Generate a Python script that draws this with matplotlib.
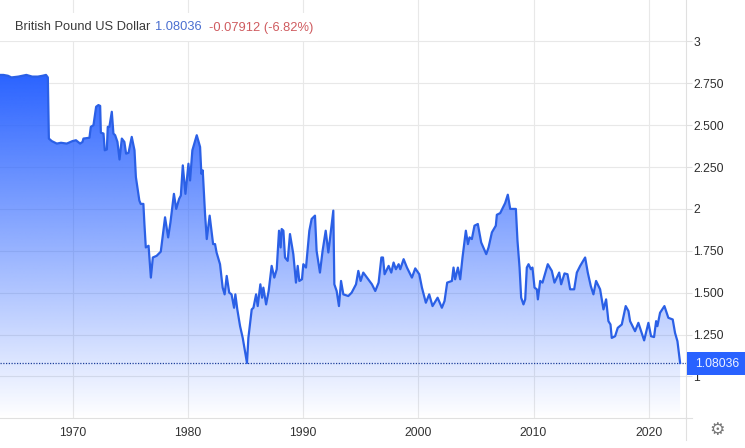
import numpy as np
import matplotlib
matplotlib.use("Agg")
import matplotlib.pyplot as plt
from matplotlib.lines import Line2D
from matplotlib.patches import Polygon, Rectangle
from matplotlib.transforms import Affine2D

years = [1963.7,1964,1964.4,1964.7,1965.3,1966,1966.5,1967,1967.4,1967.7,1967.86,
 1967.95,1968.2,1968.64,1969,1969.5,1970,1970.3,1970.66,1970.87,1970.95,1971.47,1971.59,1971.82,1972.05,1972.25,1972.4,1972.46,1972.69,1972.8,1972.98,1973.06,1973.2,1973.41,1973.55,1973.7,1973.9,1974.08,1974.28,1974.5,1974.65,1974.86,1975.14,1975.38,1975.5,1975.8,1975.92,1976.15,
 1976.24,1976.36,1976.6,1976.8,1976.97,1977.3,1977.66,1977.83,1978.03,1978.3,1978.5,1978.8,1979,1979.25,1979.4,1979.57,1979.8,1980.06,1980.2,1980.4,1980.78,1981.07,1981.18,1981.3,1981.5,1981.65,1981.9,1982.2,1982.37,1982.5,1982.8,1983.03,1983.2,1983.38,1983.6,1983.8,1984.02,1984.13,1984.3,1984.54,1984.77,1985.14,1985.26,1985.4,1985.55,1985.7,1985.93,1986.07,1986.3,1986.45,1986.56,1986.8,1987.02,1987.28,1987.51,1987.72,1987.92,1988.06,1988.15,1988.3,1988.44,1988.67,1988.87,1989.16,1989.39,1989.54,1989.68,1989.91,1990.03,1990.26,1990.55,1990.75,1991.04,1991.18,1991.47,1991.7,1991.97,1992.2,1992.63,1992.72,1992.92,1993.12,1993.3,1993.5,1993.93,1994.22,1994.6,1994.8,1995,1995.23,1995.66,1995.98,
 1996.27,1996.56,1996.8,1996.94,1997.08,1997.43,1997.66,1997.86,1998.06,1998.3,1998.44,1998.73,1999.02,1999.45,1999.74,2000.09,2000.32,2000.66,2000.95,2001.24,2001.68,2002.05,2002.28,2002.51,2002.92,2003.06,2003.2,2003.44,2003.64,2003.84,2004.13,2004.31,2004.45,2004.65,2004.88,2005.17,2005.46,2005.9,2006.1,2006.39,2006.73,2006.82,2007.11,2007.54,2007.77,2007.98,2008.47,2008.61,2008.79,2008.93,2009.13,2009.28,2009.42,2009.57,2009.77,2009.91,2010.09,2010.29,2010.38,2010.58,2010.78,2010.95,2011.24,2011.59,2011.82,2012.23,2012.4,2012.69,2012.95,2013.18,2013.53,2013.76,2014.05,2014.48,2014.71,2014.97,2015.2,2015.43,2015.78,2016.07,2016.3,2016.5,2016.68,2016.79,2017.08,2017.31,2017.66,2018.0,2018.24,2018.38,2018.81,2019.1,2019.34,2019.6,2019.97,2020.2,2020.46,2020.64,2020.75,2020.98,2021.36,2021.7,2022.08,2022.28,2022.49,2022.72]
rates = [2.80,2.80,2.795,2.785,2.79,2.80,2.79,2.79,2.795,2.80,2.785,
 2.42,2.405,2.39,2.395,2.39,2.405,2.41,2.39,2.40,2.42,2.425,2.49,2.50,2.61,2.62,2.615,2.455,2.45,2.35,2.355,2.49,2.49,2.58,2.45,2.44,2.40,2.295,2.42,2.40,2.33,2.335,2.43,2.35,2.19,2.05,2.03,2.03,
 1.91,1.77,1.78,1.59,1.71,1.72,1.745,1.84,1.95,1.83,1.92,2.09,2.0,2.06,2.08,2.26,2.09,2.27,2.17,2.35,2.44,2.37,2.21,2.23,1.97,1.82,1.96,1.79,1.79,1.74,1.67,1.53,1.49,1.60,1.50,1.49,1.41,1.49,1.40,1.30,1.23,1.08,1.23,1.31,1.40,1.41,1.49,1.42,1.55,1.47,1.53,1.43,1.51,1.66,1.59,1.64,1.87,1.77,1.88,1.87,1.71,1.69,1.85,1.73,1.56,1.66,1.57,1.58,1.67,1.65,1.87,1.94,1.96,1.75,1.62,1.75,1.87,1.74,1.99,1.55,1.51,1.42,1.57,1.49,1.48,1.50,1.55,1.63,1.57,1.62,1.58,1.55,
 1.51,1.56,1.71,1.71,1.61,1.66,1.62,1.68,1.64,1.67,1.64,1.70,1.65,1.59,1.645,1.61,1.53,1.44,1.49,1.42,1.47,1.41,1.45,1.56,1.57,1.65,1.58,1.65,1.58,1.71,1.87,1.79,1.83,1.82,1.90,1.91,1.80,1.73,1.77,1.86,1.90,1.965,1.975,2.035,2.085,2.0,2.0,1.81,1.65,1.47,1.43,1.46,1.65,1.67,1.64,1.65,1.53,1.52,1.46,1.57,1.56,1.60,1.67,1.63,1.56,1.62,1.55,1.615,1.61,1.52,1.52,1.62,1.66,1.71,1.62,1.54,1.49,1.57,1.52,1.40,1.46,1.33,1.31,1.23,1.24,1.29,1.31,1.42,1.39,1.33,1.27,1.32,1.27,1.215,1.32,1.24,1.235,1.33,1.30,1.38,1.42,1.35,1.34,1.26,1.21,1.08036]

x_ticks = [1970, 1980, 1990, 2000, 2010, 2020]
y_ticks = [1, 1.25, 1.5, 1.75, 2, 2.25, 2.5, 2.75, 3]
y_labels = ["1", "1.250", "1.500", "1.750", "2", "2.250", "2.500", "2.750", "3"]
last_price = 1.08036
title_name = "British Pound US Dollar"
title_price = "1.08036"
title_change = "-0.07912 (-6.82%)"

W, H = 745, 448
AXW, AXB = 686.3, 418.3
BLUE = (0x29/255, 0x62/255, 1.0)
GRID = "#e8e8e8"
EDGE = "#e0e0e0"
plt.rcParams["font.family"] = ["Liberation Sans", "DejaVu Sans"]

fig = plt.figure(figsize=(W/100, H/100), dpi=100, facecolor="white")
ax = fig.add_axes([0, (H-AXB)/H, AXW/W, AXB/H])
xl = 1970 - 72.5/11.525
xlim = (xl, xl + AXW/11.525)
ylim = (0.75, 0.75 + AXB/167.5)
for s in ("top", "left"):
    ax.spines[s].set_visible(False)
for s in ("right", "bottom"):
    ax.spines[s].set_color(EDGE)
    ax.spines[s].set_linewidth(0.8)
ax.yaxis.tick_right()
ax.set_xticks(x_ticks)
ax.set_yticks(y_ticks)
ax.set_yticklabels(y_labels)
ax.grid(True, color=GRID, lw=0.8, zorder=0)
ax.set_axisbelow(True)
ax.tick_params(axis="y", length=4, width=0.8, color=EDGE, labelsize=8.7, pad=1,
               labelcolor="#2e2e2e")
ax.tick_params(axis="x", length=0, labelsize=8.7, pad=6.5, labelcolor="#333333")

# white band behind the heading
band = Rectangle((0, 13), 318, 27.5, fc="white", ec="none", zorder=1)
band.set_transform(Affine2D().scale(1, -1).translate(0, H))
ax.add_patch(band)

# gradient area
grad = np.zeros((256, 2, 4))
grad[..., 0], grad[..., 1], grad[..., 2] = BLUE
grad[..., 3] = np.linspace(1, 0, 256)[:, None]
im = ax.imshow(grad, extent=[xl, years[-1], 0.75, 2.81], origin="upper", aspect="auto",
               interpolation="bilinear", zorder=1.5)
poly = Polygon(list(zip(years, rates)) + [(years[-1], 0.75), (years[0], 0.75)],
               closed=True, transform=ax.transData, fc="none", ec="none")
ax.add_patch(poly)
im.set_clip_path(poly)
ax.set_xlim(*xlim)
ax.set_ylim(*ylim)

ax.plot(years, rates, color="#2b60e6", lw=1.6, solid_joinstyle="round", zorder=3)
ax.axhline(last_price, color="#1d3f9a", lw=0.9, ls=(0, (1, 1.2)), zorder=2.8)

# axis stubs past the plot area
fig.add_artist(Line2D([AXW/W, AXW/W], [1-AXB/H, 1-440/H], color=EDGE, lw=0.8))
fig.add_artist(Line2D([AXW/W, 692/W], [1-AXB/H, 1-AXB/H], color=EDGE, lw=0.8))

# last-price flag
fig.add_artist(Rectangle((686.5/W, 1-374.7/H), 58.5/W, 22.7/H, transform=fig.transFigure,
                         fc="#2962ff", ec="none", zorder=5))
fig.text(717.3/W, 1-363.5/H, "1.08036", color="#eef3ff", fontsize=8.7, ha="center", va="center", zorder=6)

# heading
fig.text(15/W, 1-27.5/H, title_name, color="#3a3a3a", fontsize=9.3, va="center")
fig.text(155.5/W, 1-27.5/H, title_price, color="#4a6fd0", fontsize=9.3, va="center")
fig.text(209/W, 1-27.5/H, title_change, color="#cf5b5f", fontsize=9.3, va="center")

# settings glyph
fig.text(717/W, 1-430/H, "\u2699", color="#777777", fontsize=12.5, ha="center", va="center",
         family="DejaVu Sans")

fig.savefig("out.png", dpi=100, facecolor="white")
